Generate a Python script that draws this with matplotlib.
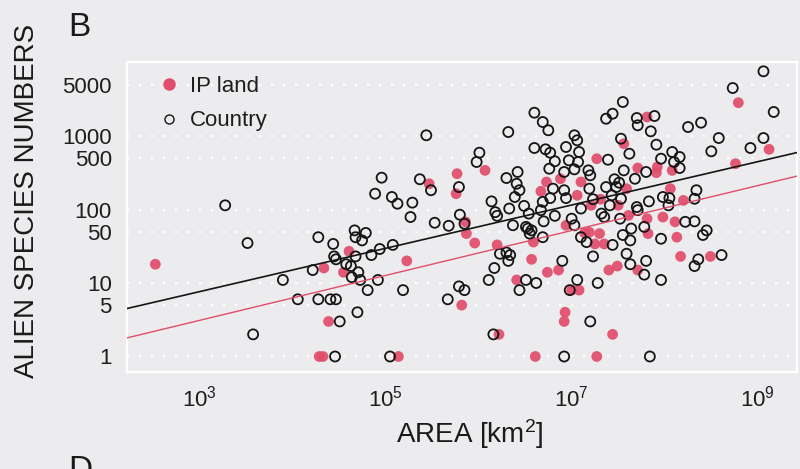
import numpy as np
import matplotlib
matplotlib.use('Agg')
import matplotlib.pyplot as plt
from matplotlib.lines import Line2D
from matplotlib.ticker import FixedLocator, FixedFormatter, NullLocator

plt.rcParams['font.family'] = ['Liberation Sans', 'DejaVu Sans']
plt.rcParams['mathtext.fontset'] = 'custom'
plt.rcParams['mathtext.rm'] = 'Liberation Sans'
plt.rcParams['mathtext.it'] = 'Liberation Sans:italic'
plt.rcParams['mathtext.bf'] = 'Liberation Sans:bold'

# ---------------- data (log10 of area in km^2, species numbers) ----------------
ip_log10_area = [2.53, 4.34, 4.39, 4.29, 4.33, 5.77, 5.47, 5.76, 5.86, 5.87, 5.96, 4.61, 4.55,
                 5.23, 5.82, 5.14, 6.07, 6.88, 7.10, 7.27, 6.67, 6.73, 7.06, 7.21, 6.59, 6.94,
                 7.14, 7.19, 7.25, 6.20, 6.57, 6.74, 6.86, 6.41, 7.00, 7.08, 6.93, 6.92, 6.22,
                 6.61, 7.27, 7.81, 7.56, 8.08, 7.92, 7.91, 7.71, 7.59, 8.06, 8.20, 7.50, 7.61,
                 7.81, 7.98, 8.11, 8.13, 7.30, 7.35, 7.40, 7.49, 7.71, 8.17, 7.44, 8.79, 9.12,
                 8.76, 8.49, 7.31, 7.82]
ip_species = [18, 16, 3, 1, 1, 307, 224, 164, 68, 47, 35, 27, 14,
              20, 5, 1, 341, 262, 237, 491, 177, 237, 156, 114, 36, 61,
              48, 49, 34, 33, 21, 14, 15, 11, 8, 8, 4, 3, 2,
              1, 1, 1815, 786, 341, 379, 317, 367, 192, 192, 133, 114, 83,
              75, 79, 68, 42, 47, 34, 15, 17, 15, 23, 2, 2839, 659,
              420, 23, 138, 47]

country_log10_area = [3.28, 3.52, 4.28, 4.44, 4.45, 4.22, 3.90, 4.06, 4.28, 4.41, 4.47, 4.51, 3.58,
                      4.46, 5.44, 5.98, 6.01, 5.37, 5.49, 5.79, 4.96, 4.89, 5.07, 5.13, 5.29, 5.27,
                      5.53, 5.68, 5.80, 5.85, 4.67, 4.79, 4.68, 4.75, 5.08, 4.94, 4.85, 4.47, 4.68,
                      4.58, 4.63, 4.71, 4.64, 4.73, 4.92, 4.81, 5.19, 5.67, 5.79, 5.85, 4.70, 5.05,
                      6.60, 6.69, 6.75, 6.32, 6.60, 6.72, 6.77, 6.82, 6.76, 6.94, 7.03, 7.06, 6.97,
                      7.08, 7.07, 7.03, 6.92, 7.18, 7.20, 6.42, 6.30, 6.41, 6.44, 6.39, 6.80, 6.77,
                      6.92, 6.94, 7.19, 7.23, 7.10, 6.14, 6.18, 6.20, 6.33, 6.49, 6.54, 6.69, 6.67,
                      6.82, 6.70, 6.53, 6.55, 6.51, 6.57, 6.69, 6.37, 7.00, 7.03, 7.10, 7.16, 7.23,
                      6.23, 6.30, 6.34, 6.32, 6.17, 6.11, 6.90, 6.51, 6.44, 6.62, 6.98, 7.06, 7.28,
                      7.20, 6.16, 6.92, 7.55, 7.44, 7.37, 7.70, 7.89, 7.71, 7.85, 8.25, 8.39, 7.53,
                      7.62, 7.91, 7.96, 8.08, 8.16, 8.10, 8.16, 7.80, 7.56, 7.39, 7.46, 7.51, 7.48,
                      7.68, 7.37, 8.34, 8.32, 7.98, 8.05, 8.04, 7.83, 7.70, 7.71, 7.53, 7.43, 7.41,
                      7.32, 7.35, 7.52, 7.78, 8.22, 8.32, 7.96, 7.64, 7.55, 7.63, 7.44, 7.59, 7.63,
                      7.80, 7.78, 7.96, 8.36, 8.32, 8.41, 7.84, 9.06, 8.73, 9.17, 8.58, 8.50, 8.92,
                      9.06, 8.45, 8.61]
country_species = [114, 35, 42, 34, 23, 15, 11, 6, 6, 6, 6, 3, 2,
                   1, 1023, 443, 593, 258, 183, 202, 271, 164, 148, 120, 124, 79,
                   66, 60, 85, 64, 52, 48, 42, 38, 33, 29, 24, 21, 23,
                   18, 17, 14, 12, 11, 11, 8, 8, 6, 9, 8, 4, 1,
                   2075, 1550, 1196, 1133, 687, 659, 593, 453, 359, 709, 1023, 874, 467,
                   606, 443, 352, 324, 341, 292, 324, 268, 224, 183, 148, 192, 143,
                   183, 143, 192, 138, 103, 129, 92, 82, 103, 112, 88, 127, 98,
                   82, 69, 55, 47, 58, 52, 42, 61, 75, 61, 42, 36, 23,
                   25, 26, 24, 20, 16, 11, 20, 11, 8, 10, 8, 11, 10,
                   3, 2, 1, 2902, 2011, 1719, 1758, 1872, 1399, 1158, 1326, 1518, 919,
                   574, 762, 491, 606, 518, 443, 367, 324, 341, 476, 258, 232, 202,
                   262, 202, 183, 140, 148, 143, 114, 129, 108, 98, 140, 156, 114,
                   88, 79, 75, 58, 68, 69, 40, 55, 45, 38, 33, 25, 18,
                   20, 13, 11, 21, 17, 45, 1, 7590, 4498, 2123, 939, 619, 687,
                   939, 52, 24]

# fitted log-log regression lines: log10(species) = intercept + slope*log10(area)
country_fit = (-0.004, 0.295)
ip_fit = (-0.428, 0.306)

y_ticks = [1, 5, 10, 50, 100, 500, 1000, 5000]
y_tick_labels = ['1', '5', '10', '50', '100', '500', '1000', '5000']
x_tick_exponents = [3, 5, 7, 9]

# ---------------- style ----------------
BG = '#ECECEE'
RED = '#E14D6A'
BLACK = '#151515'

fig = plt.figure(figsize=(8, 4.69), dpi=100, facecolor=BG)
ax = fig.add_axes([127 / 800, 1 - 372 / 469, (797 - 127) / 800, (372 - 62) / 469])
ax.set_facecolor(BG)
ax.set_xscale('log')
ax.set_yscale('log')
xlo, xhi = 10 ** 2.226, 10 ** 9.42
ax.set_xlim(xlo, xhi)
ax.set_ylim(10 ** -0.211, 10 ** 4.007)

for s in ax.spines.values():
    s.set_color('white')
    s.set_linewidth(1.6)

ax.yaxis.set_major_locator(FixedLocator(y_ticks))
ax.yaxis.set_major_formatter(FixedFormatter(y_tick_labels))
ax.yaxis.set_minor_locator(NullLocator())
ax.xaxis.set_major_locator(FixedLocator([10.0 ** e for e in x_tick_exponents]))
ax.xaxis.set_major_formatter(FixedFormatter([r'$\mathregular{10^{%d}}$' % e for e in x_tick_exponents]))
ax.xaxis.set_minor_locator(NullLocator())
ax.tick_params(axis='both', length=0, labelsize=16, colors='#1e1e1e')
ax.tick_params(axis='y', pad=11)
ax.tick_params(axis='x', pad=10)

ax.grid(axis='y', color='white', linewidth=1.6, linestyle=(0, (1, 4.4)))
ax.grid(axis='x', visible=False)
ax.set_axisbelow(True)

ax.scatter(10.0 ** np.array(ip_log10_area), ip_species, s=60, color=RED,
           edgecolors='none', alpha=0.92, zorder=2)
ax.scatter(10.0 ** np.array(country_log10_area), country_species, s=52,
           facecolors='none', edgecolors=BLACK, linewidths=1.3, zorder=3)

xf = np.logspace(np.log10(xlo), np.log10(xhi), 50)
ax.plot(xf, 10 ** (country_fit[0] + country_fit[1] * np.log10(xf)), color=BLACK, lw=1.2, zorder=4)
ax.plot(xf, 10 ** (ip_fit[0] + ip_fit[1] * np.log10(xf)), color=RED, lw=1.0, zorder=4)

handles = [Line2D([], [], marker='o', ls='', color=RED, markersize=9, markeredgecolor='none'),
           Line2D([], [], marker='o', ls='', markerfacecolor='none', markeredgecolor=BLACK,
                  markersize=6.5, markeredgewidth=1.0)]
ax.legend(handles, ['IP land', 'Country'], loc='upper left', bbox_to_anchor=(0.046, 0.955),
          frameon=False, fontsize=16, handlelength=1.0, handletextpad=0.44,
          labelspacing=0.6, borderpad=0, borderaxespad=0, labelcolor='#1e1e1e')

fig.text(27.5 / 800, 1 - 201 / 469, 'ALIEN SPECIES NUMBERS', rotation=90, ha='center',
         va='center', fontsize=20, color='#1a1a1a')
fig.text(470 / 800, 1 - 443 / 469, r'AREA [km$^{2}$]', ha='center', va='baseline',
         fontsize=20, color='#1a1a1a')
fig.text(68 / 800, 1 - 36 / 469, 'B', ha='left', va='baseline', fontsize=24, color='#1a1a1a')
# panel letter of the next panel, cut by the lower edge as in the reference
fig.text(68 / 800, 1 - 479 / 469, 'D', ha='left', va='baseline', fontsize=24, color='#1a1a1a')

fig.savefig('out.png', dpi=100, facecolor=BG)
